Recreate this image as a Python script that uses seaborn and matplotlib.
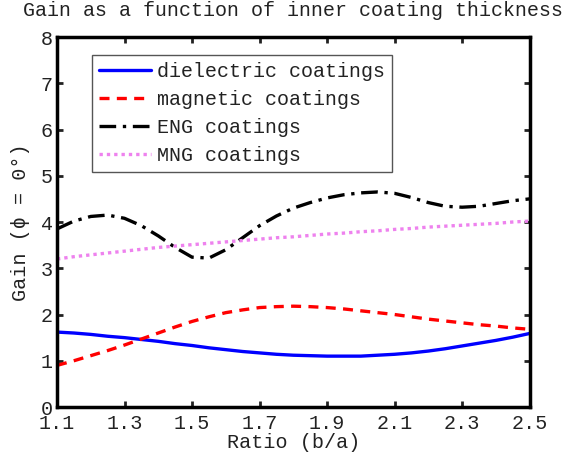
import numpy as np
import pandas as pd
import seaborn as sns
import matplotlib
matplotlib.use("Agg")
import matplotlib.pyplot as plt

# values
ratio = [1.10, 1.15, 1.20, 1.25, 1.30, 1.35, 1.40, 1.45, 1.50, 1.55, 1.60, 1.65, 1.70,
         1.75, 1.80, 1.85, 1.90, 1.95, 2.00, 2.05, 2.10, 2.15, 2.20, 2.25, 2.30, 2.35,
         2.40, 2.45, 2.50]
dielectric = [1.62, 1.60, 1.57, 1.53, 1.50, 1.46, 1.42, 1.37, 1.33, 1.28, 1.24, 1.20, 1.17,
              1.14, 1.12, 1.11, 1.10, 1.10, 1.10, 1.12, 1.14, 1.17, 1.21, 1.26, 1.32, 1.38,
              1.44, 1.51, 1.59]
magnetic = [0.90, 1.00, 1.11, 1.22, 1.34, 1.47, 1.60, 1.73, 1.85, 1.95, 2.04, 2.10, 2.15,
            2.17, 2.18, 2.17, 2.15, 2.12, 2.08, 2.04, 2.00, 1.95, 1.90, 1.86, 1.82, 1.78,
            1.75, 1.71, 1.68]
eng = [3.85, 4.02, 4.12, 4.15, 4.08, 3.92, 3.70, 3.45, 3.24, 3.22, 3.40, 3.66, 3.92,
       4.13, 4.30, 4.42, 4.52, 4.59, 4.63, 4.65, 4.62, 4.53, 4.42, 4.34, 4.32, 4.34,
       4.40, 4.46, 4.50]
mng = [3.20, 3.25, 3.29, 3.33, 3.37, 3.41, 3.45, 3.48, 3.51, 3.54, 3.57, 3.60, 3.63,
       3.66, 3.68, 3.71, 3.74, 3.76, 3.79, 3.81, 3.84, 3.86, 3.89, 3.91, 3.93, 3.95,
       3.97, 4.00, 4.02]

series_names = ["dielectric coatings", "magnetic coatings", "ENG coatings", "MNG coatings"]
series_colors = ["#0000ff", "#ff0000", "#000000", "#ee82ee"]
series_styles = ["-", (0, (3, 2.2)), (0, (5, 2, 1, 2)), (0, (1, 1.2))]

df = pd.DataFrame({"ratio": ratio * 4,
                   "gain": dielectric + magnetic + eng + mng,
                   "series": sum([[n] * len(ratio) for n in series_names], [])})

sns.set_style("ticks")
plt.rcParams["font.family"] = ["Liberation Mono", "DejaVu Sans Mono"]

fig = plt.figure(figsize=(5.66, 4.54), dpi=100)
ax = fig.add_axes([0.1007, 0.1035, 0.8350, 0.8150])

for name, col, ls in zip(series_names, series_colors, series_styles):
    sub = df[df["series"] == name]
    sns.lineplot(data=sub, x="ratio", y="gain", ax=ax, color=col, linewidth=2.4,
                 linestyle=ls, label=name)

ax.set_xlim(1.1, 2.5)
ax.set_ylim(0, 8)
ax.set_xticks([1.1, 1.3, 1.5, 1.7, 1.9, 2.1, 2.3, 2.5])
ax.set_xticklabels(["1.1", "1.3", "1.5", "1.7", "1.9", "2.1", "2.3", "2.5"])
ax.set_yticks(range(9))
ax.tick_params(direction="in", top=True, right=True, length=4, width=2,
               labelsize=14.5, colors="#222222")
ax.tick_params(axis="x", pad=5)
ax.tick_params(axis="y", pad=3)
for sp in ax.spines.values():
    sp.set_linewidth(2.5)
    sp.set_color("black")

ax.set_xlabel("Ratio (b/a)", fontsize=14.5, labelpad=0, color="#222222")
ax.set_ylabel("Gain (ϕ = 0°)", fontsize=14.5, labelpad=8, color="#222222")
ax.set_title("Gain as a function of inner coating thickness", fontsize=14.4,
             pad=15, color="#222222")

leg = ax.legend(loc="upper left", bbox_to_anchor=(0.074, 0.951), fontsize=14.4,
                frameon=True, fancybox=False, edgecolor="#555555", framealpha=1,
                handlelength=2.6, handletextpad=0.3, borderpad=0.35, labelspacing=0.45,
                borderaxespad=0)
leg.get_frame().set_linewidth(1.0)
for t in leg.get_texts():
    t.set_color("#222222")

fig.savefig("out.png", dpi=100)
